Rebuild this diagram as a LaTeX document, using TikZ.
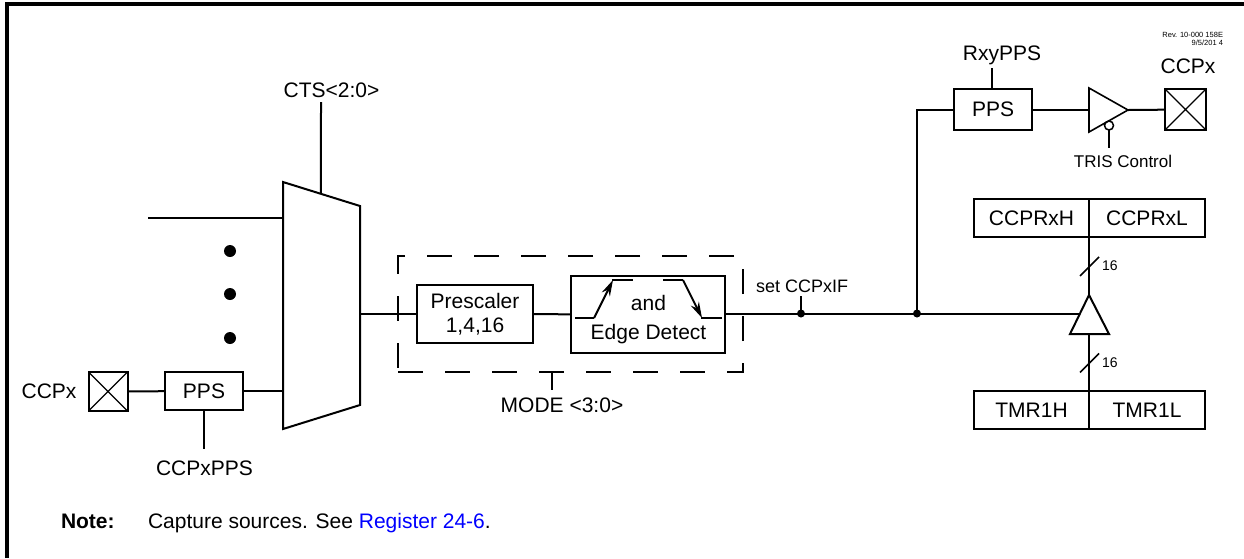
\documentclass[tikz,border=0pt]{standalone}
\usepackage{fontspec}
\setmainfont{Liberation Sans}
\usepackage[rgb]{xcolor}
\usetikzlibrary{arrows.meta,positioning,calc}

\tikzset{
	blk/.style={draw, inner sep=0pt, outer sep=0pt, align=center, font=\fontsize{21}{25}\selectfont},
	lbl/.style={inner sep=0pt, font=\fontsize{21}{25}\selectfont},
	small/.style={inner sep=0pt, font=\fontsize{17}{20}\selectfont},
	pad/.style={draw, minimum size=39pt, inner sep=0pt, outer sep=0pt,
		path picture={\draw[line width=1.3pt] (path picture bounding box.north west) -- (path picture bounding box.south east)
			(path picture bounding box.north east) -- (path picture bounding box.south west);}},
	jdot/.style={circle, fill, inner sep=0pt, minimum size=8pt},
}

\begin{document}
\begin{tikzpicture}[x=1pt, y=-1pt, >={Stealth[length=16pt,width=9pt]}, line width=2pt]

	\useasboundingbox (0,0) rectangle (1244,558);

	% frame
	\draw[line width=3.5pt] (7,558) -- (7,4) -- (1244,4);

	\node[anchor=north east, inner sep=0pt, align=right, font=\fontsize{7.5}{8}\selectfont] (rev) at (1224,31)
		{Rev. 10-000 158E\\9/5/201 4};

	% capture source mux
	\coordinate (mux-tl) at (283,182);
	\coordinate (mux-tr) at (360,206);
	\coordinate (mux-br) at (360,405);
	\coordinate (mux-bl) at (283,429);
	\draw (mux-tl) -- (mux-tr) -- (mux-br) -- (mux-bl) -- cycle;

	\coordinate (cts) at (321,102);
	\coordinate (mux-sel) at ($(mux-tl)!0.493!(mux-tr)$);
	\draw (cts) -- (mux-sel);
	\node[lbl] (ctslbl) at (331.5,90) {CTS<2:0>};

	\coordinate (in0) at (148,218);
	\draw (in0) -- (in0 -| mux-tl);
	\foreach \y in {251,294,338} {
		\fill (230,\y) circle (6pt);
	}

	\node[pad] (padin) at (108,391.5) {};
	\node[lbl, left=11pt of padin] (padinlbl) {CCPx};
	\node[blk, minimum width=78pt, minimum height=38pt] (ppsin) at (204,391) {PPS};
	\draw (padin) -- (ppsin);
	\draw (ppsin) -- (ppsin -| mux-bl);
	\coordinate (ccpxpps) at (204,449);
	\draw (ppsin.south) -- (ccpxpps);
	\node[lbl] (ccpxppslbl) at (204.5,468) {CCPxPPS};

	% prescaler and edge detect
	\node[draw, dash pattern=on 25pt off 22pt, minimum width=345pt, minimum height=116pt, inner sep=0pt] (modebox) at (570.5,314) {};
	\node[blk, minimum width=116pt, minimum height=58pt] (pre) at (475,314) {Prescaler\\[-1pt]1,4,16};
	\node[blk, minimum width=154pt, minimum height=77pt] (edge) at (648,314.5) {};
	\node[lbl, align=center] (edgelbl) at (648.5,319.5) {and\\[4pt]Edge Detect};
	\draw (mux-br |- pre.west) -- (pre.west);
	\draw (pre) -- (edge);

	\draw (575,318) -- (594,318);
	\draw[->] (594,318) -- (613,280);
	\draw (612,280) -- (633,280);
	\draw (663,280) -- (683,280);
	\draw[->] (683,280) -- (702,318);
	\draw (701,318) -- (722,318);

	\coordinate (mode) at (552,390);
	\draw (mode |- modebox.south) -- (mode);
	\node[lbl] (modelbl) at (562,405) {MODE <3:0>};

	% capture path
	\coordinate (j1) at (801,313.5);
	\coordinate (j2) at (917,313.5);
	\coordinate (tb-apex) at (1089,295);
	\coordinate (tb-l) at (1070,334);
	\coordinate (tb-r) at (1109,334);
	\coordinate (tb-in) at (1080,313.5);
	\draw (tb-apex) -- (tb-r) -- (tb-l) -- cycle;
	\draw (edge.east |- j1) -- (j1) -- (j2) -- (tb-in);
	\node[jdot] at (j1) {};
	\node[jdot] at (j2) {};
	\draw (j1) -- ++(0,-18);
	\node[anchor=west, inner sep=0pt, font=\fontsize{18}{20}\selectfont] (setlbl) at (755,286) {set CCPxIF};

	% registers
	\node[blk, minimum width=115pt, minimum height=38pt] (ccprh) at (1031.5,218) {CCPRxH};
	\node[blk, minimum width=116pt, minimum height=38pt, right=0pt of ccprh] (ccprl) {CCPRxL};
	\node[blk, minimum width=115pt, minimum height=38pt] (tmrh) at (1031.5,410) {TMR1H};
	\node[blk, minimum width=116pt, minimum height=38pt, right=0pt of tmrh] (tmrl) {TMR1L};

	\draw (ccprh.south east) -- coordinate[pos=0.5] (bus1) (tb-apex);
	\draw (tmrh.north east) -- coordinate[pos=0.5] (bus2) (tb-apex |- tb-l);
	\foreach \b in {bus1,bus2} {
		\draw[line width=1.5pt] (\b) ++(-9,10) -- ++(19,-19);
		\node[anchor=west, inner sep=0pt, font=\fontsize{14}{16}\selectfont] at ($(\b)+(12,0)$) {16};
	}

	% output to pin
	\draw (j2) |- (954,110);
	\node[blk, minimum width=78pt, minimum height=41pt] (ppsout) at (993,109.5) {PPS};
	\coordinate (rxy) at (992,68);
	\draw (ppsout.north -| rxy) -- (rxy);
	\node[lbl] (rxylbl) at (1002,55) {RxyPPS};

	\coordinate (ob-t) at (1089,88);
	\coordinate (ob-b) at (1089,132);
	\coordinate (ob-tip) at (1128,110);
	\draw[line width=1.6pt] (ob-t) -- (ob-tip) -- (ob-b) -- cycle;
	\draw (ppsout) -- (ppsout -| ob-t);
	\node[pad, minimum size=41pt] (padout) at (1185.5,109.5) {};
	\draw (ob-tip) -- (padout);
	\node[lbl] (padoutlbl) at (1188,66) {CCPx};
	\draw[line width=1.5pt] (1109,125.5) circle (4.5pt);
	\draw (1109,130) -- (1109,148);
	\node[small] (trislbl) at (1123,161) {TRIS Control};

	% note
	\node[lbl, anchor=base west] (note) at (60,528) {\textbf{Note:}};
	\node[lbl, anchor=base west] (notetxt) at (147,528) {Capture sources. See \textcolor{blue}{Register 24-6}.};

\end{tikzpicture}
\end{document}
